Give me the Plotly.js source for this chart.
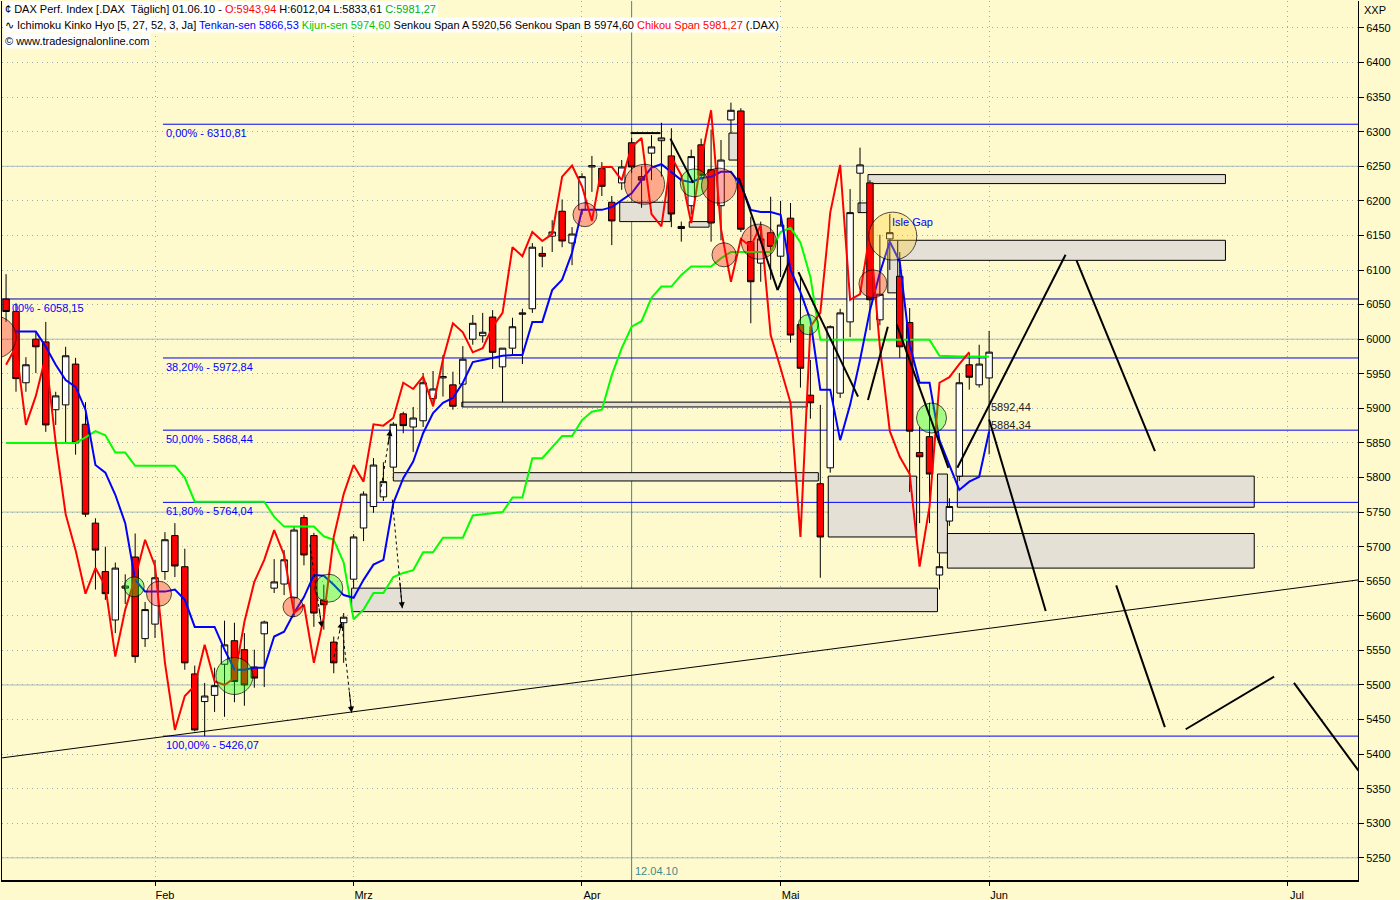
<!DOCTYPE html>
<html><head><meta charset="utf-8">
<script src="https://cdn.plot.ly/plotly-3.0.1.min.js"></script>
<style>html,body{margin:0;padding:0;background:#FFFACD;}#chart{width:1400px;height:900px;}</style>
</head><body><div id="chart"></div>
<script>
// ---------- DATA ----------
const dates = [
 '11.01.10','12.01.10','13.01.10','14.01.10','15.01.10','18.01.10','19.01.10','20.01.10','21.01.10','22.01.10','25.01.10','26.01.10','27.01.10','28.01.10','29.01.10',
 '01.02.10','02.02.10','03.02.10','04.02.10','05.02.10','08.02.10','09.02.10','10.02.10','11.02.10','12.02.10','15.02.10','16.02.10','17.02.10','18.02.10','19.02.10','22.02.10','23.02.10','24.02.10','25.02.10','26.02.10',
 '01.03.10','02.03.10','03.03.10','04.03.10','05.03.10','08.03.10','09.03.10','10.03.10','11.03.10','12.03.10','15.03.10','16.03.10','17.03.10','18.03.10','19.03.10','22.03.10','23.03.10','24.03.10','25.03.10','26.03.10','29.03.10','30.03.10','31.03.10',
 '01.04.10','06.04.10','07.04.10','08.04.10','09.04.10','12.04.10','13.04.10','14.04.10','15.04.10','16.04.10','19.04.10','20.04.10','21.04.10','22.04.10','23.04.10','26.04.10','27.04.10','28.04.10','29.04.10','30.04.10',
 '03.05.10','04.05.10','05.05.10','06.05.10','07.05.10','10.05.10','11.05.10','12.05.10','13.05.10','14.05.10','17.05.10','18.05.10','19.05.10','20.05.10','21.05.10','24.05.10','25.05.10','26.05.10','27.05.10','28.05.10','31.05.10',
 '01.06.10'];
const open = [6058,6040,5937,6000,5996,5898,5905,5964,5877,5734,5664,5594,5640,5685,5567,
 5588,5664,5716,5671,5516,5476,5485,5530,5564,5551,5526,5574,5640,5646,5626,5742,5716,5623,5562,5590,
 5653,5727,5758,5772,5815,5892,5873,5882,5914,5944,5934,5935,6000,6005,6032,5960,5987,6036,6044,6124,6149,6185,6139,
 6187,6249,6247,6198,6226,6284,6235,6269,6287,6265,6160,6193,6281,6245,6193,6317,6330,6141,6110,6154,
 6120,6175,6021,5919,5791,5814,5922,6025,6240,6226,6028,6145,6091,6024,5836,5859,5659,5737,5802,5963,5934,
 5943.94];
const high = [6094,6052,5974,6011,6025,5924,5989,5973,5909,5741,5700,5677,5660,5719,5620,
 5681,5721,5734,5697,5528,5503,5525,5593,5590,5575,5551,5593,5682,5695,5729,5746,5720,5645,5570,5604,
 5718,5780,5828,5822,5880,5895,5902,5951,5954,5977,5953,5990,6035,6038,6042,5987,6031,6044,6139,6134,6172,6202,6162,
 6240,6265,6256,6207,6259,6291,6250,6295,6313,6305,6170,6274,6290,6303,6288,6342,6334,6177,6170,6206,
 6200,6197,6089,5970,5905,6020,6044,6217,6277,6230,6151,6181,6126,6045,5873,5908,5690,5770,5951,5980,5992,
 6012.04];
const low = [6025,5924,5924,5951,5866,5876,5850,5833,5743,5638,5623,5575,5617,5532,5555,
 5568,5652,5656,5522,5433,5426.07,5461,5454,5475,5470,5496,5497,5633,5630,5598,5673,5584,5580,5517,5532,
 5640,5708,5749,5766,5808,5864,5837,5873,5903,5917,5898,5902,5992,5995,5957,5909,5976,5964,6038,6104,6126,6133,6107,
 6180,6213,6207,6136,6216,6240,6190,6230,6235,6162,6141,6180,6230,6141,6143,6298,6155,6023,6083,6086,
 6090,5995,5930,5885,5655,5807,5915,6003,6183,6013,6020,6100,5973,5779,5734,5734,5638,5730,5795,5927,5930,
 5833.61];
const close = [6040,5943,5963,5989,5876,5918,5976,5850,5747,5695,5632,5669,5643,5541,5609,
 5655,5710,5672,5532,5435,5484,5499,5558,5505,5500,5510,5591,5649,5681,5724,5688,5604,5616,5532,5598,
 5714,5776,5818,5794,5877,5875,5886,5937,5928,5946,5903,5971,6023,6010,5981,5987,6018,6038,6133,6120,6155,6142,6152,
 6235,6251,6221,6171,6249,6249,6230,6278,6291,6181,6163,6264,6237,6168,6259,6331,6159,6083,6145,6134,
 6165,6006,5958,5908,5714,6018,6038,6183,6252,6057,6065,6154,5989,5867,5830,5805,5671,5758,5937,5945,5964,
 5981.27];
const tenkan = [null,6011,6011,6011,5989,5963,5941,5931,5898,5818,5807,5775,5734,5652,5635,
 5635,5635,5638,5623,5584,5584,5584,5551,5522,5522,5525,5525,5570,5577,5604,5627,5659,5658,5645,5630,
 5626,5652,5674,5681,5763,5799,5823,5864,5893,5908,5915,5937,5967,5970,5973,5976,5977,5977,6025,6025,6071,6086,6125,
 6187,6187,6187,6191,6201,6211,6230,6248,6253,6242,6230,6227,6233,6235,6242,6242,6223,6187,6184,6184,
 6180,6100,6068,6028,5927,5927,5854,5905,5970,6042,6096,6141,6112,5992,5937,5937,5854,5818,5782,5794,5801,
 5866.53];
const kijun = [5850,5850,5850,5850,5850,5850,5850,5850,5858,5867,5861,5836,5836,5817,5817,
 5817,5817,5817,5800,5765,5765,5765,5765,5765,5765,5765,5765,5743,5729,5729,5729,5729,5715,5710,5677,
 5595,5609,5633,5633,5656,5662,5666,5692,5692,5713,5713,5713,5745,5747,5749,5750,5771,5771,5828,5828,5844,5860,5860,
 5883,5895,5898,5948,5987,6018,6026,6060,6076,6076,6093,6105,6105,6105,6117,6126,6126,6126,6126,6126,
 6155,6161,6140,6090,5999,5999,5999,5999,5999,5999,5999,5999,5999,5999,5999,5999,5976,5975,5975,5975,5975,
 5974.60];
const chikouShift = 2;

const monthIdx = [0, 20, 43, 63, 84, 114];
const monthLabels = ['Feb','Mrz','Apr','Mai','Jun','Jul'];

const fibLevels = [6310.81, 5972.84, 5868.44, 5764.04, 5426.07];
const fibLabels = ['0,00% - 6310,81','38,20% - 5972,84','50,00% - 5868,44','61,80% - 5764,04','100,00% - 5426,07'];
const fibStartIdx = 0.8;
const fib2Level = 6058.15;
const fib2Label = '00% - 6058,15';

const gapX0 = [71.8, 73.8, 74.8, 70.8, 46.8, 53.8, 57.8, 30.9, 24.0, 19.8, 67.8, 78.8, 80.8, 79.8];
const gapX1 = [107.8, 74.8, 107.8, 71.9, 51.9, 55.8, 58.8, 65.7, 66.8, 78.8, 76.7, 79.8, 110.7, 110.7];
const gapLo = [6225, 6067, 6114, 6183, 6170, 6162, 6259, 5902, 5795, 5606, 5714, 5691, 5757, 5669];
const gapHi = [6238, 6143, 6143, 6197, 6198, 6170, 6298, 5909, 5807, 5640, 5802, 5805, 5802, 5719];

const trendX = [-15.4, 121.2];
const trendY = [5394.6, 5652];

// drawn segments: x0, y0, x1, y1
const segX0 = [47.9, 51.9, 58.8, 62.7, 64.8, 71.8, 74.7, 80.8, 92.8, 84.0, 96.8, 103.8, 114.7];
const segY0 = [6298, 6290, 6233, 6071, 6097, 5912, 6021, 5814, 6114, 5884, 5644, 5436, 5503];
const segX1 = [50.9, 54.2, 62.7, 63.8, 70.8, 73.8, 79.9, 91.7, 100.7, 89.7, 101.7, 112.7, 121.2];
const segY1 = [6298, 6226, 6071, 6110, 5917, 6018, 5814, 6122, 5838, 5607, 5439, 5512, 5376];

// arrows: tail -> head
const arrTX = [15.6, 17.9, 18.8, 22.7, 23.9];
const arrTY = [5703, 5532, 5591, 5778, 5768];
const arrHX = [16.8, 18.8, 19.8, 23.7, 24.9];
const arrHY = [5583, 5591, 5460, 5869, 5611];

const circleIdx = [-16.1, -2.1, 0.4, 8.0, 13.9, 17.5, 43.3, 49.3, 54.3, 56.8, 57.3, 60.8, 65.8, 72.3, 74.3, 78.2];
const circlePrice = [6003, 5642, 5632, 5513, 5613, 5640, 6180, 6224, 6226, 6222, 6122, 6141, 6021, 6080, 6149, 5886];
const circleKind = ['r','g','r','g','r','g','r','r','g','r','r','r','g','r','y','g'];
const circleSize = [42, 20, 25, 37, 20, 28, 24, 40, 28, 35, 24, 35, 20, 28, 48, 30];

const markIdx = 48;          // 12.04.10
const markLabel = '12.04.10';
const levelTexts = ['5892,44', '5884,34'];
const levelValues = [5892.44, 5884.34];
const levelIdx = 84;
const isleText = 'Isle Gap';
const isleIdx = 74.0, islePrice = 6170;

// ---------- BUILD ----------
const xi = dates.map((d, i) => i - 15);
const FONT = 'Liberation Sans, Arial, sans-serif';

const traces = [
  {type:'candlestick', x:xi, open:open, high:high, low:low, close:close,
   increasing:{line:{color:'#000000', width:1}, fillcolor:'#FFFFFF'},
   decreasing:{line:{color:'#000000', width:1}, fillcolor:'#FF0000'},
   whiskerwidth:0, hoverinfo:'skip'},
  {type:'scatter', mode:'lines', x:xi, y:kijun, line:{color:'#00FF00', width:2}, hoverinfo:'skip'},
  {type:'scatter', mode:'lines', x:xi, y:tenkan, line:{color:'#0000FF', width:2}, hoverinfo:'skip'},
  {type:'scatter', mode:'lines', x:xi.slice(0, close.length - chikouShift), y:close.slice(chikouShift),
   line:{color:'#FF0000', width:2}, hoverinfo:'skip'},
  {type:'scatter', mode:'markers', x:circleIdx, y:circlePrice, hoverinfo:'skip',
   marker:{size:circleSize,
     color:circleKind.map(k => k === 'g' ? 'rgba(0,255,0,0.5)' : k === 'r' ? 'rgba(255,20,20,0.5)' : 'rgba(255,205,40,0.45)'),
     line:{color:'#000000', width:1}}}
];

const shapes = [];
[5250, 5500, 5750, 6000, 6250].forEach(v => shapes.push({type:'line', xref:'paper', x0:0, x1:1, y0:v, y1:v, layer:'below', line:{color:'#A9BEBE', width:1}}));
shapes.push({type:'line', x0:markIdx, x1:markIdx, yref:'paper', y0:0, y1:1, layer:'between', line:{color:'#3C8C8C', width:1}});
gapX0.forEach((x0, i) => shapes.push({type:'rect', x0:x0, x1:gapX1[i], y0:gapLo[i], y1:gapHi[i], layer:'between',
  fillcolor:'#E4E0D6', line:{color:'#000000', width:1}}));
fibLevels.forEach(v => shapes.push({type:'line', x0:fibStartIdx, x1:121.15, y0:v, y1:v, layer:'between', line:{color:'#0000FF', width:1}}));
shapes.push({type:'line', xref:'paper', x0:0, x1:1, y0:fib2Level, y1:fib2Level, layer:'between', line:{color:'#00009A', width:1}});
shapes.push({type:'line', x0:trendX[0], x1:trendX[1], y0:trendY[0], y1:trendY[1], layer:'above', line:{color:'#000000', width:1}});
segX0.forEach((x0, i) => shapes.push({type:'line', x0:x0, y0:segY0[i], x1:segX1[i], y1:segY1[i], layer:'above', line:{color:'#000000', width:2}}));
arrTX.forEach((x0, i) => shapes.push({type:'line', x0:x0, y0:arrTY[i], x1:arrHX[i], y1:arrHY[i], layer:'above', line:{color:'#000000', width:1, dash:'dot'}}));

const annotations = [];
arrTX.forEach((x0, i) => annotations.push({x:arrHX[i], y:arrHY[i], ax:arrHX[i] - (arrHX[i]-x0)*0.25, ay:arrHY[i] - (arrHY[i]-arrTY[i])*0.25,
  axref:'x', ayref:'y', text:'', showarrow:true, arrowhead:2, arrowsize:1.2, arrowwidth:1, arrowcolor:'#000'}));
fibLevels.forEach((v, i) => annotations.push({x:fibStartIdx + 0.1, y:v, xanchor:'left', yanchor:'top', yshift:-1, text:fibLabels[i],
  showarrow:false, font:{family:FONT, size:11, color:'#0000FF'}}));
annotations.push({x:-14.6, y:fib2Level, xanchor:'left', yanchor:'top', yshift:-1, text:fib2Label, showarrow:false, font:{family:FONT, size:11, color:'#0000FF'}});
annotations.push({x:levelIdx, y:levelValues[0], xanchor:'left', yanchor:'bottom', yshift:-1, text:levelTexts[0], showarrow:false, font:{family:FONT, size:11, color:'#222'}});
annotations.push({x:levelIdx, y:levelValues[1], xanchor:'left', yanchor:'top', yshift:2, text:levelTexts[1], showarrow:false, font:{family:FONT, size:11, color:'#222'}});
annotations.push({x:isleIdx, y:islePrice, xanchor:'left', yanchor:'middle', text:isleText, showarrow:false, font:{family:FONT, size:11, color:'#0000FF'}});
annotations.push({x:markIdx, xanchor:'left', xshift:1, yref:'paper', y:(880-871)/879, yanchor:'middle', text:markLabel, showarrow:false, font:{family:FONT, size:11, color:'#3C8C8C'}});
const hdr = [
  '¢ DAX Perf. Index [.DAX  Täglich] 01.06.10 - <span style="color:#FF0000">O:5943,94</span> H:6012,04 L:5833,61 <span style="color:#00B000">C:5981,27</span>',
  '∿ Ichimoku Kinko Hyo [5, 27, 52, 3, Ja] <span style="color:#0000FF">Tenkan-sen 5866,53</span> <span style="color:#00C800">Kijun-sen 5974,60</span> Senkou Span A 5920,56 Senkou Span B 5974,60 <span style="color:#FF0000">Chikou Span 5981,27</span> (.DAX)',
  '© www.tradesignalonline.com'
];
const hdrY = [9, 25, 41];
hdr.forEach((t, i) => annotations.push({xref:'paper', yref:'paper', x:0, xshift:1, y:1 - (hdrY[i]-1)/879, xanchor:'left', yanchor:'middle',
  text:t, showarrow:false, bgcolor:'#FFFFFF', borderpad:1, font:{family:FONT, size:11, color:'#000'}}));
annotations.push({xref:'paper', yref:'paper', x:1, xshift:4, y:1, yshift:-1, xanchor:'left', yanchor:'top', text:'XXP', showarrow:false, font:{family:FONT, size:11, color:'#000'}});

const layout = {
  width:1400, height:900,
  margin:{l:2, r:42, t:1, b:20, pad:0},
  paper_bgcolor:'#FFFACD', plot_bgcolor:'#FFFACD',
  showlegend:false, hovermode:false,
  boxgap:0.35, boxgroupgap:0,
  xaxis:{range:[-15.41, 121.15], tickmode:'array', tickvals:monthIdx, ticktext:monthLabels,
    ticks:'outside', ticklen:4, tickcolor:'#000', showgrid:true, gridcolor:'#94AEAE', griddash:'1px,4px',
    zeroline:false, showline:true, linecolor:'#000', linewidth:2, ticklabelshift:10,
    tickfont:{family:FONT, size:11, color:'#000'}, rangeslider:{visible:false}, fixedrange:true},
  yaxis:{range:[5218, 6489], side:'right', dtick:50, tick0:0, ticks:'outside', ticklen:5, tickcolor:'#000',
    showgrid:true, gridcolor:'#94AEAE', griddash:'1px,4px', zeroline:false, showline:true, linecolor:'#000',
    linewidth:1, mirror:true, tickfont:{family:FONT, size:11, color:'#000'}, fixedrange:true},
  shapes:shapes, annotations:annotations
};

Plotly.newPlot('chart', traces, layout, {displayModeBar:false, staticPlot:true});
</script>
</body></html>
